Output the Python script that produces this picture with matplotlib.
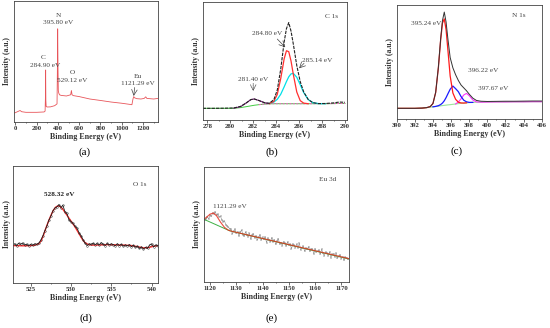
import numpy as np
import matplotlib.pyplot as plt
from matplotlib.ticker import AutoMinorLocator

plt.rcParams['font.family'] = ['Liberation Serif', 'DejaVu Serif']

# ---- (a) survey spectrum ----
survey_e = [-5, 20, 45, 60, 100, 200, 270, 280, 283, 285, 287, 290, 300, 330, 370,
            392, 395, 398, 401, 404, 408, 415, 430, 480, 520, 527, 533, 545, 600,
            700, 800, 900, 1000, 1080, 1095, 1105, 1112, 1120, 1140, 1180, 1210,
            1225, 1235, 1260, 1300, 1340]
survey_i = [7.5, 8.5, 9.5, 8.5, 8.0, 8.0, 8.3, 9.0, 20, 43, 18, 12.8, 12.4, 12.5, 13.5,
            15, 40, 77, 45, 26, 24, 22.5, 22, 21.5, 22.5, 26, 22.5, 21.8, 21,
            19, 17.8, 16.5, 15.5, 14.5, 14.3, 19, 21, 20, 19.3, 19, 19.5,
            20.8, 19.5, 19.3, 19.0, 19.5]

# ---- (b) C 1s ----
c1s_e = [277.6, 278.5, 279.5, 280.3, 280.9, 281.4, 281.8, 282.1, 282.5, 283.0, 283.4,
         283.8, 284.1, 284.4, 284.7, 284.9, 285.1, 285.3, 285.5, 285.8, 286.1, 286.4,
         286.8, 287.2, 287.7, 288.3, 289.0, 289.5, 290.0]
c1s_raw = [9.9, 9.9, 10.0, 10.2, 11.5, 14.5, 17.3, 17.8, 16.5, 14.6, 14.2,
           17.2, 25.4, 43.1, 66.2, 77.5, 82.5, 75.2, 64.2, 46.1, 32.5, 23.8,
           17.3, 14.7, 13.9, 14.0, 14.5, 15.2, 15.0]
c1s_bg = [9.9, 9.9, 9.9, 9.9, 10.5, 11.3, 12.0, 12.5, 13.0, 13.5, 13.7,
          13.8, 13.8, 13.8, 13.8, 13.8, 13.8, 13.8, 13.8, 13.8, 13.8, 13.8,
          13.8, 13.8, 13.8, 13.8, 13.9, 14.0, 14.0]
c1s_p1 = [None] * 3 + [10.0, 11.3, 14.5, 17.3, 17.8, 16.5, 14.6, 13.9] + [None] * 18
c1s_p2 = [None] * 10 + [13.9, 15.8, 21.7, 35.1, 51.9, 58.7, 57.9, 49.9, 38.5, 23.7,
                        16.4, 14.3, 13.8] + [None] * 6
c1s_p3 = [None] * 10 + [14.1, 15.2, 17.5, 21.8, 28.1, 32.6, 36.6, 39.1, 39.5, 36.2,
                        29.9, 23.3, 17.3, 14.7, 13.9, 13.8] + [None] * 3

# ---- (c) N 1s ----
n1s_e = [390, 391, 392, 392.8, 393.3, 393.7, 394.0, 394.3, 394.6, 394.85, 395.05,
         395.25, 395.45, 395.65, 395.9, 396.2, 396.5, 396.8, 397.1, 397.4, 397.7,
         398.0, 398.4, 398.8, 399.3, 400, 401, 402, 403, 404, 405, 406]
n1s_raw = [9.6, 9.6, 9.6, 9.8, 10.2, 11.1, 13.8, 23.5, 45.6, 70.5, 86.4,
           93.8, 85.0, 70.3, 54.0, 45.0, 39.0, 34.0, 30.0, 27.5, 25.0,
           22.0, 18.5, 16.5, 15.8, 15.6, 15.7, 15.8, 15.8, 15.9, 16.0, 16.0]
n1s_bg = [9.6, 9.6, 9.6, 9.8, 10.2, 10.6, 10.9, 11.2, 11.5, 11.8, 12.0,
          12.2, 12.4, 12.6, 12.8, 13.1, 13.4, 13.7, 14.0, 14.2, 14.4,
          14.6, 14.8, 14.9, 15.0, 15.1, 15.2, 15.2, 15.3, 15.3, 15.4, 15.4]
n1s_p1 = [9.6, 9.6, 9.6, 9.8, 10.2, 11.1, 13.8, 23.4, 45.2, 69.4, 84.2,
          87.8, 78.4, 60.6, 37.9, 23.0, 17.5, 15.0, 14.3, 14.2, 14.4] + [None] * 11
n1s_p2 = [None] * 6 + [10.9, 11.3, 11.9, 12.9, 14.2, 16.2, 19.0, 22.3, 26.3, 29.1,
                       26.8, 24.2, 19.9, 16.7, 15.3, 14.8, 14.8] + [None] * 9
n1s_p3 = [None] * 16 + [13.4, 15.1, 17.9, 21.3, 22.65, 20.7, 16.9, 15.2, 15.0, 15.1,
                        15.2, 15.2, 15.3, 15.3, 15.4, 15.4]

# ---- (d) O 1s ----
o1s_counts = [33.5, 32.0, 34.0, 33.0, 34.2, 32.5, 33.2, 32.0, 33.0, 32.2, 33.5, 33.0,
              34.0, 36.5, 40.0, 44.5, 48.5, 53.5, 57.0, 61.5, 64.0, 65.0, 67.0, 64.5,
              66.5, 61.0, 59.5, 54.0, 52.5, 51.0, 48.5, 47.0, 43.0, 40.5, 37.0, 34.0,
              32.0, 33.5, 33.0, 34.0, 32.8, 33.8, 32.5, 34.5, 33.0, 32.0, 33.8, 32.5,
              33.5, 32.8, 31.8, 33.5, 32.0, 33.0, 31.5, 32.5, 31.8, 32.8, 31.0, 32.2,
              30.5, 31.5, 29.5, 30.8, 29.0, 30.5, 29.5, 32.5, 33.5, 31.0, 32.5, 32.0]
o1s_e = np.linspace(523.0, 540.75, len(o1s_counts))
o1s_fit_e = [522.8, 524, 525, 525.5, 526.0, 526.3, 526.6, 526.9, 527.2, 527.5, 527.8,
             528.1, 528.4, 528.7, 529.0, 529.3, 529.6, 529.9, 530.2, 530.5, 530.8,
             531.1, 531.4, 531.7, 532.1, 532.6, 533.5, 534.5, 535.5, 536.5, 537.5,
             538.3, 539.0, 539.6, 540.2, 540.8]
o1s_fit = [32.0, 31.8, 31.9, 32.3, 33.5, 36.0, 41.0, 47.0, 52.5, 57.5, 62.0,
           64.8, 66.0, 65.2, 63.0, 60.0, 57.0, 54.0, 51.0, 48.0, 44.5,
           41.0, 37.5, 34.8, 33.0, 32.4, 32.5, 32.8, 32.6, 32.4, 32.0,
           31.0, 30.0, 30.3, 31.3, 32.0]

# ---- (e) Eu 3d ----
eu_counts = [54, 55, 56.5, 55, 58, 57, 60, 59.5, 61, 58, 59, 56.5, 57, 54, 52.5, 53,
             50, 49, 47.5, 46.5,
             45.7, 42.0, 44.2, 45.9, 42.2, 43.7, 40.1, 43.5, 45.1, 41.3,
             39.7, 43.5, 41.3, 39.5, 42.4, 37.4, 40.5, 42.0, 38.5, 40.2,
             36.6, 39.0, 41.1, 36.5, 38.7, 37.2, 39.2, 34.3, 38.1, 36.6,
             35.0, 38.5, 34.9, 36.9, 32.7, 35.6, 37.7, 32.9, 34.1, 31.7,
             35.1, 33.7, 31.3, 34.9, 32.0, 33.1, 28.9, 33.0, 32.0, 30.0,
             32.8, 29.9, 33.7, 28.0, 30.0, 31.2, 26.8, 29.7, 28.4, 30.7,
             26.6, 28.4, 28.8, 24.5, 29.0, 25.9, 26.8, 27.7, 24.2, 28.5,
             24.8, 23.0, 26.0, 25.3, 23.0, 26.2, 21.2, 24.1, 24.6, 22.0,
             25.1, 20.6, 22.3, 23.7, 20.4, 21.9, 18.8, 21.8, 20.8, 19.6]
eu_e = np.linspace(1118.0, 1172.5, len(eu_counts))
eu_fit_e = [1117.7, 1119, 1120, 1121.3, 1122.5, 1124, 1125.5, 1127, 1128.5, 1172.9]
eu_fit = [54.5, 57, 59, 60, 57.5, 52, 47.5, 45, 44, 20.3]
eu_bg_e = [1117.7, 1127.5, 1172.9]
eu_bg = [54.5, 44.5, 20.0]

W, H = 550, 328
fig = plt.figure(figsize=(5.5, 3.28), dpi=100)


def box(l, r, t, b):
    return fig.add_axes([l / W, 1 - b / H, (r - l) / W, (b - t) / H])


def style(ax, xlim, ticks):
    ax.set_xlim(*xlim)
    ax.set_ylim(0, 100)
    ax.set_xticks(ticks)
    ax.set_yticks([])
    ax.xaxis.set_minor_locator(AutoMinorLocator(2))
    ax.tick_params(axis='x', which='both', labelsize=4.8, width=0.5, pad=1.0,
                   direction='out', colors='#333333')
    ax.tick_params(axis='x', which='major', length=1.8)
    ax.tick_params(axis='x', which='minor', length=1.0)
    for lab in ax.get_xticklabels():
        lab.set_fontweight('bold')
    for s in ax.spines.values():
        s.set_linewidth(0.6)
        s.set_color('#444444')
    ax.set_xlabel('Binding Energy (eV)', fontsize=5.8, fontweight='bold',
                  labelpad=1.5, color='#333333')
    ax.set_ylabel('Intensity (a.u.)', fontsize=5.5, fontweight='bold',
                  labelpad=2, color='#333333')


txt = dict(fontsize=5.2, color='#444444', ha='center', va='center')
arr = dict(arrowstyle='->', lw=0.5, color='#444444', shrinkA=0, shrinkB=0)

# (a)
ax = box(14, 158, 1, 122)
ax.plot(survey_e, survey_i, color='#e8555a', lw=0.6)
style(ax, (-12, 1340), range(0, 1201, 200))
ax.text(404, 88.4, 'N', **txt)
ax.text(404, 82, '395.80 eV', **txt)
ax.text(262, 53.7, 'C', **txt)
ax.text(279, 47, '284.90 eV', **txt)
ax.text(539, 40.7, 'O', **txt)
ax.text(530, 33.9, '529.12 eV', **txt)
ax.text(1149, 38, 'Eu', **txt)
ax.text(1149, 32, '1121.29 eV', **txt)
ax.annotate('', xy=(1112, 21.5), xytext=(1121, 28.5), arrowprops=arr)
fig.text(85 / W, 1 - 152 / H, '(a)', fontsize=8, ha='center', va='center')

# (b)
ax = box(202.7, 346.7, 2, 120)
ax.plot(c1s_e, c1s_bg, color='#44cc44', lw=0.7)
ax.plot(c1s_e[8:], c1s_bg[8:], color='#ff55cc', lw=0.7, ls=(0, (2, 1.5)))
ax.plot(c1s_e, c1s_p1, color='#802080', lw=0.8)
ax.plot(c1s_e, c1s_p3, color='#00e0e8', lw=0.9)
ax.plot(c1s_e, c1s_p2, color='#ff3030', lw=0.9)
ax.plot(c1s_e, c1s_raw, color='#222222', lw=0.8, ls=(0, (3, 1)))
style(ax, (277.6, 290.15), range(278, 291, 2))
ax.text(288.8, 87.5, 'C 1s', **txt)
ax.text(283.24, 73.5, '284.80 eV', **txt)
ax.annotate('', xy=(284.8, 61.6), xytext=(284.1, 68.6), arrowprops=arr)
ax.text(287.6, 50.8, '285.14 eV', **txt)
ax.annotate('', xy=(286.0, 43.8), xytext=(286.43, 48), arrowprops=arr)
ax.text(281.97, 34.7, '281.40 eV', **txt)
ax.annotate('', xy=(282.0, 24.5), xytext=(282.0, 31.0),
            arrowprops=dict(arr, ls=(0, (1.5, 1))))
fig.text(272 / W, 1 - 152 / H, '(b)', fontsize=8, ha='center', va='center')

# (c)
ax = box(396.7, 541.7, 5, 119.3)
ax.plot(n1s_e, n1s_bg, color='#99e699', lw=0.8)
ax.plot(n1s_e, n1s_p3, color='#ff33ff', lw=0.8)
ax.plot(n1s_e, n1s_p2, color='#1a1aff', lw=0.9)
ax.plot(n1s_e, n1s_p1, color='#ff1a1a', lw=0.9)
ax.plot(n1s_e, n1s_raw, color='#333333', lw=0.7)
style(ax, (390, 406), range(390, 407, 2))
ax.text(403.5, 90.6, 'N 1s', **txt)
ax.text(393.3, 83.4, '395.24 eV', **txt)
ax.text(399.56, 42.3, '396.22 eV', **txt)
ax.text(400.6, 27.1, '397.67 eV', **txt)
fig.text(457 / W, 1 - 151 / H, '(c)', fontsize=8, ha='center', va='center')

# (d)
ax = box(13.3, 158, 166, 283)
ax.plot(o1s_fit_e, o1s_fit, color='#ff2a2a', lw=1.0)
ax.plot(o1s_e, o1s_counts, color='#222222', lw=0.6, marker='o', ms=1.2,
        mfc='none', mew=0.3)
style(ax, (522.85, 540.8), range(525, 541, 5))
ax.text(528.55, 75.8, '528.32 eV', fontsize=5.2, fontweight='bold',
        color='#222222', ha='center', va='center')
ax.text(538.55, 84.6, 'O 1s', **txt)
fig.text(86 / W, 1 - 318 / H, '(d)', fontsize=8, ha='center', va='center')

# (e)
ax = box(204, 349, 167, 282)
ax.plot(eu_e, eu_counts, color='#8a8a8a', lw=0.4, marker='+', ms=1.5, mew=0.3)
ax.plot(eu_bg_e, eu_bg, color='#3cb043', lw=0.7)
ax.plot(eu_fit_e, eu_fit, color='#e83020', lw=0.8, alpha=0.85)
style(ax, (1117.7, 1172.9), range(1120, 1171, 10))
ax.text(1127.6, 65.5, '1121.29 eV', **txt)
ax.text(1164.9, 88.7, 'Eu 3d', **txt)
fig.text(272 / W, 1 - 318 / H, '(e)', fontsize=8, ha='center', va='center')

fig.savefig('out.png', dpi=100)
